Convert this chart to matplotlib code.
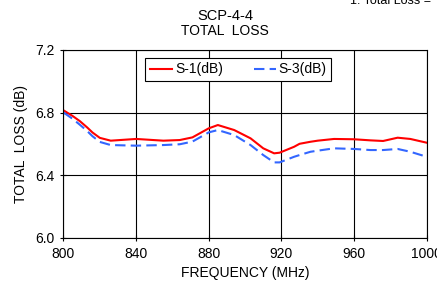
import matplotlib
matplotlib.use('Agg')
import matplotlib.pyplot as plt

plt.rcParams['font.family'] = ['Liberation Sans', 'DejaVu Sans']

# frecuencias (MHz) y pérdidas
freq_s1 = [800, 805, 809, 813, 816, 820, 826, 840, 855, 864, 871, 880, 885, 894, 903, 910,
           916, 919, 927, 930, 936, 940, 949, 960, 969, 976, 984, 991, 1000]
loss_s1 = [6.814, 6.778, 6.745, 6.705, 6.672, 6.638, 6.620, 6.631, 6.620, 6.624, 6.641,
           6.699, 6.720, 6.688, 6.635, 6.571, 6.539, 6.543, 6.581, 6.600, 6.613, 6.620,
           6.631, 6.629, 6.622, 6.618, 6.639, 6.631, 6.607]

freq_s3 = [800, 805, 809, 813, 816, 820, 826, 840, 855, 864, 871, 880, 885, 894, 903, 910,
           916, 919, 927, 930, 936, 940, 949, 960, 969, 976, 984, 991, 1000]
loss_s3 = [6.800, 6.760, 6.722, 6.682, 6.648, 6.612, 6.592, 6.588, 6.592, 6.597, 6.614,
           6.673, 6.688, 6.656, 6.592, 6.528, 6.481, 6.481, 6.517, 6.528, 6.549, 6.556,
           6.571, 6.567, 6.560, 6.560, 6.567, 6.549, 6.517]

x_ticks = [800, 840, 880, 920, 960, 1000]
y_ticks = [6.0, 6.4, 6.8, 7.2]

fig = plt.figure(figsize=(4.37, 2.90), dpi=100)
ax = fig.add_axes([0.1453, 0.1807, 0.8311, 0.6469])

ax.plot(freq_s1, loss_s1, color='#ff0000', lw=1.5, label='S-1(dB)')
ax.plot(freq_s3, loss_s3, color='#3366ff', lw=1.5, linestyle=(0, (5, 2.5)), label='S-3(dB)')

ax.set_xlim(800, 1000)
ax.set_ylim(6.0, 7.2)
ax.set_xticks(x_ticks)
ax.set_yticks(y_ticks)
ax.set_yticklabels([f'{v:.1f}' for v in y_ticks])
ax.grid(True, color='black', lw=0.8)
ax.tick_params(direction='inout', length=5, width=0.8, labelsize=10, pad=4)
for s in ax.spines.values():
    s.set_color('black')
    s.set_linewidth(0.8)

ax.set_xlabel('FREQUENCY (MHz)', fontsize=10, labelpad=4)
ax.set_ylabel('TOTAL  LOSS (dB)', fontsize=10, labelpad=5)

leg = ax.legend(loc='upper left', bbox_to_anchor=(0.225, 0.96), ncol=2, fontsize=10,
                frameon=True, fancybox=False, edgecolor='black', framealpha=1,
                handlelength=1.6, handletextpad=0.2, columnspacing=2.2,
                borderpad=0.35, borderaxespad=0)
leg.get_frame().set_linewidth(0.8)

fig.text(0.515, 0.931, 'SCP-4-4', ha='center', va='baseline', fontsize=10.5)
fig.text(0.515, 0.879, 'TOTAL  LOSS', ha='center', va='baseline', fontsize=10)
fig.text(0.80, 0.985, '1. Total Loss =', ha='left', va='baseline', fontsize=9)

fig.savefig('out.png', dpi=100)
